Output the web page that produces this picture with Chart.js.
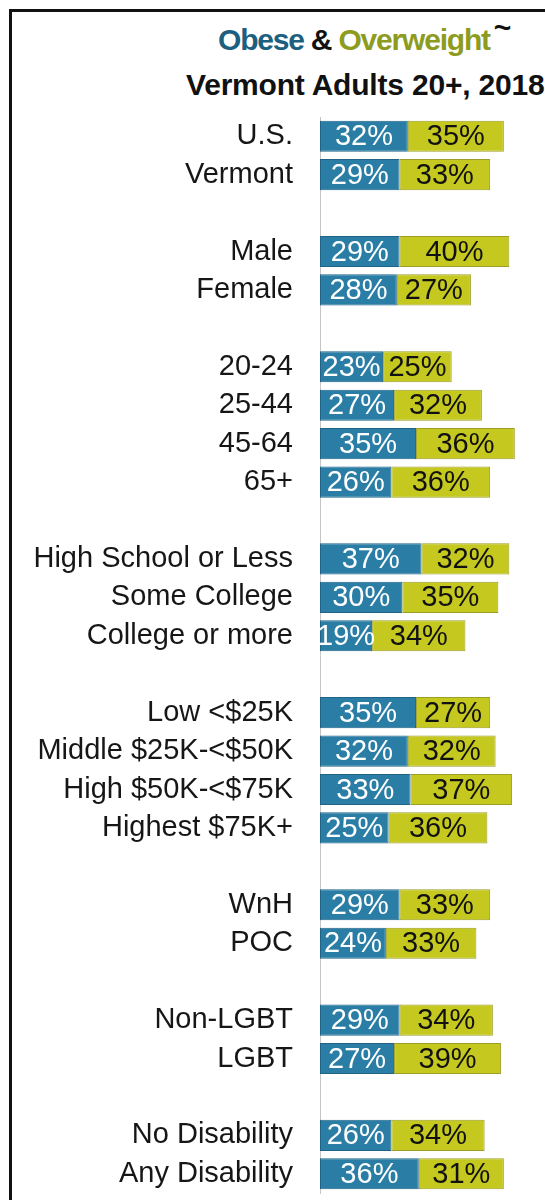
<!DOCTYPE html>
<html>
<head>
<meta charset="utf-8">
<script src="https://cdn.jsdelivr.net/npm/chart.js@4"></script>
<style>
  html, body { margin: 0; padding: 0; background: #fff; overflow: hidden; }
  #wrap { position: relative; width: 545px; height: 1200px; overflow: hidden; }
  #frame { position: absolute; left: 9px; top: 9px; width: 600px; height: 1300px;
           border-left: 3px solid #111; border-top: 3px solid #111; }
  .ttl { position: absolute; white-space: nowrap; font-family: 'Liberation Sans', Arial, sans-serif;
         font-weight: bold; font-size: 30px; line-height: 1; color: #111; }
  #t1 { left: 218px; top: 25px; letter-spacing: -1.2px; }
  #t2 { left: 186px; top: 70px; letter-spacing: -0.2px; }
  .ob { color: #1d5f7f; }
  .ov { color: #8d9b1e; }
  .tl { position: relative; top: -12px; left: 4px; font-size: 30px; }
  #chartBox { position: absolute; left: 0; top: 0; width: 545px; height: 1200px; }
</style>
</head>
<body>
<div id="wrap">
  <div id="frame"></div>
  <div class="ttl" id="t1"><span class="ob">Obese</span> &amp; <span class="ov">Overweight</span><span class="tl">~</span></div>
  <div class="ttl" id="t2">Vermont Adults 20+, 2018</div>
  <div id="chartBox"><canvas id="chartObesity"></canvas></div>
</div>
<script>
const blue = '#2a7ea5';
const olive = '#c5c81f';
const labelFont = "'Liberation Sans', Arial, sans-serif";

// blank entries are the gaps between groups
const categories = ['U.S.', 'Vermont', '', 'Male', 'Female', '', '20-24', '25-44', '45-64', '65+', '',
    'High School or Less', 'Some College', 'College or more', '',
    'Low <$25K', 'Middle $25K-<$50K', 'High $50K-<$75K', 'Highest $75K+', '',
    'WnH', 'POC', '', 'Non-LGBT', 'LGBT', '', 'No Disability', 'Any Disability'];
const obese = [32, 29, null, 29, 28, null, 23, 27, 35, 26, null,
    37, 30, 19, null, 35, 32, 33, 25, null, 29, 24, null, 29, 27, null, 26, 36];
const overweight = [35, 33, null, 40, 27, null, 25, 32, 36, 36, null,
    32, 35, 34, null, 27, 32, 37, 36, null, 33, 33, null, 34, 39, null, 34, 31];

// percent labels in the middle of each bar
const barLabels = {
    id: 'barLabels',
    afterDatasetsDraw(chart) {
        const ctx = chart.ctx;
        ctx.save();
        ctx.font = '29px ' + labelFont;
        ctx.textAlign = 'center';
        ctx.textBaseline = 'middle';
        chart.data.datasets.forEach((ds, i) => {
            ctx.fillStyle = i === 0 ? '#ffffff' : '#111111';
            chart.getDatasetMeta(i).data.forEach((el, j) => {
                const v = ds.data[j];
                if (v == null) return;
                ctx.fillText(v + '%', (el.x + el.base) / 2, el.y + 1);
            });
        });
        ctx.restore();
    }
};

new Chart(document.getElementById('chartObesity'), {
    type: 'bar',
    data: {
        labels: categories,
        datasets: [
            {
                label: 'Obese',
                data: obese,
                backgroundColor: blue,
                borderColor: '#1f6487',
                borderWidth: 1,
                borderSkipped: false,
                barPercentage: 0.81,
                categoryPercentage: 1.0,
            },
            {
                label: 'Overweight',
                data: overweight,
                backgroundColor: olive,
                borderColor: '#9c9e26',
                borderWidth: 1,
                borderSkipped: false,
                barPercentage: 0.81,
                categoryPercentage: 1.0,
            }
        ]
    },
    options: {
        indexAxis: 'y',
        responsive: true,
        maintainAspectRatio: false,
        animation: false,
        layout: { padding: { top: 117, bottom: 7, left: 0, right: 0 } },
        plugins: {
            legend: { display: false },
            tooltip: { enabled: false }
        },
        scales: {
            x: {
                stacked: true,
                display: false,
                min: 0,
                max: 82
            },
            y: {
                stacked: true,
                afterFit: s => { s.width = 320; s.paddingTop = 0; s.paddingBottom = 0; },
                grid: { display: false, drawTicks: false },
                border: { display: true, color: '#c4c4c4', width: 1 },
                ticks: {
                    color: '#161616',
                    padding: 27,
                    autoSkip: false,
                    font: { family: labelFont, size: 29 }
                }
            }
        }
    },
    plugins: [barLabels]
});
</script>
</body>
</html>
